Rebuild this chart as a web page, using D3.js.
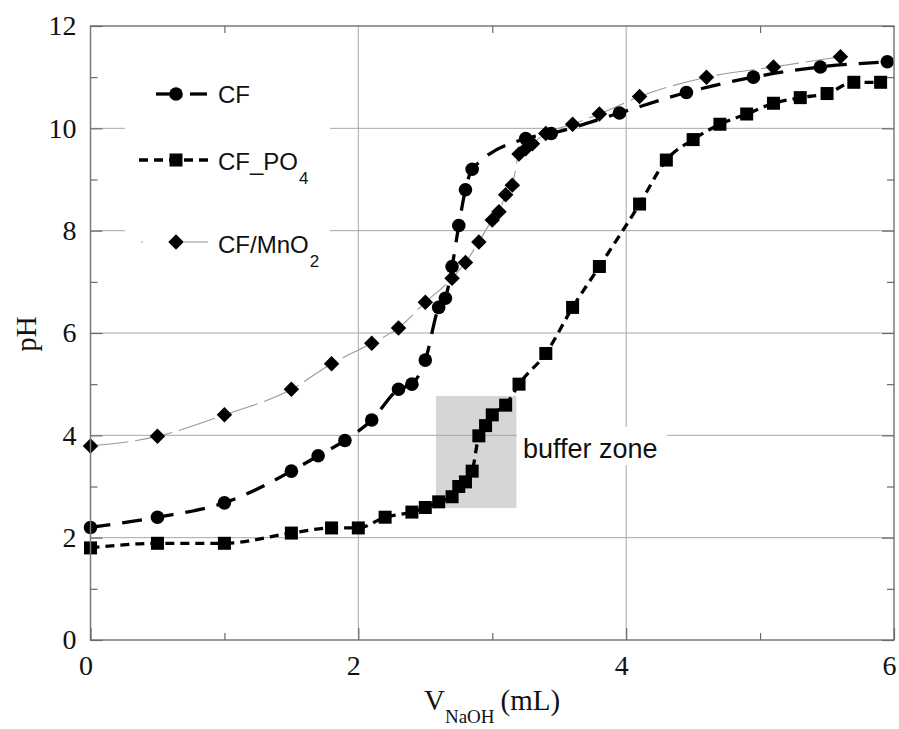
<!DOCTYPE html>
<html>
<head>
<meta charset="utf-8">
<script src="https://cdn.jsdelivr.net/npm/d3@7"></script>
<style>
  html, body { margin: 0; padding: 0; background: #fff; }
  svg { display: block; }
</style>
</head>
<body>
<svg id="chart" width="899" height="729"></svg>
<script>
// ---------- data ----------
const xCF   = [0, 0.5, 1.0, 1.5, 1.7, 1.9, 2.1, 2.3, 2.4, 2.5, 2.6, 2.65, 2.7, 2.75, 2.8, 2.85, 3.25, 3.44, 3.95, 4.45, 4.95, 5.45, 5.95];
const yCF   = [2.2, 2.4, 2.68, 3.3, 3.6, 3.9, 4.3, 4.9, 5.0, 5.47, 6.5, 6.68, 7.3, 8.1, 8.8, 9.2, 9.8, 9.9, 10.3, 10.7, 11.0, 11.2, 11.3];

const xPO4  = [0, 0.5, 1.0, 1.5, 1.8, 2.0, 2.2, 2.4, 2.5, 2.6, 2.7, 2.75, 2.8, 2.85, 2.9, 2.95, 3.0, 3.1, 3.2, 3.4, 3.6, 3.8, 4.1, 4.3, 4.5, 4.7, 4.9, 5.1, 5.3, 5.5, 5.7, 5.9];
const yPO4  = [1.8, 1.89, 1.89, 2.09, 2.19, 2.19, 2.4, 2.5, 2.59, 2.7, 2.8, 3.0, 3.09, 3.3, 3.99, 4.19, 4.4, 4.59, 5.0, 5.6, 6.5, 7.3, 8.52, 9.38, 9.78, 10.08, 10.28, 10.49, 10.6, 10.68, 10.9, 10.9];

const xMnO2 = [0, 0.5, 1.0, 1.5, 1.8, 2.1, 2.3, 2.5, 2.7, 2.8, 2.9, 3.0, 3.05, 3.1, 3.15, 3.2, 3.25, 3.3, 3.4, 3.6, 3.8, 4.1, 4.6, 5.1, 5.6];
const yMnO2 = [3.79, 3.98, 4.4, 4.9, 5.4, 5.8, 6.1, 6.6, 7.07, 7.38, 7.78, 8.21, 8.37, 8.7, 8.89, 9.5, 9.6, 9.7, 9.9, 10.08, 10.28, 10.62, 11.0, 11.2, 11.4];

const xTicks = [0, 2, 4, 6];
const xMinor = [1, 3, 5];
const yTicks = [0, 2, 4, 6, 8, 10, 12];
const yMinor = [1, 3, 5, 7, 9, 11];
const bufferX = [2.58, 3.18];
const bufferY = [2.58, 4.77];

// ---------- layout ----------
const svg = d3.select("#chart");
const L = 90.5, R = 894, T = 26, B = 640;
const x = d3.scaleLinear().domain([0, 6]).range([L, R]);
const y = d3.scaleLinear().domain([0, 12]).range([B, T]);
const serif = "'Liberation Serif','Times New Roman',serif";
const sans  = "'Liberation Sans',Arial,sans-serif";

// buffer zone rect
svg.append("rect")
  .attr("x", x(bufferX[0])).attr("y", y(bufferY[1]))
  .attr("width", x(bufferX[1]) - x(bufferX[0]))
  .attr("height", y(bufferY[0]) - y(bufferY[1]))
  .attr("fill", "#d6d6d6");

// grid
const grid = svg.append("g").attr("stroke", "#a8a8a8").attr("stroke-width", 1);
grid.selectAll("line.h").data(yTicks.filter(v => v > 0 && v < 12)).join("line")
  .attr("x1", L).attr("x2", R).attr("y1", d => y(d)).attr("y2", d => y(d));
grid.selectAll("line.v").data(xTicks.filter(v => v > 0 && v < 6)).join("line")
  .attr("y1", T).attr("y2", B).attr("x1", d => x(d)).attr("x2", d => x(d));

// white boxes (legend, label)
svg.append("rect").attr("x", 125).attr("y", 40).attr("width", 205).attr("height", 245).attr("fill", "#fff");
svg.append("rect").attr("x", 517).attr("y", 427).attr("width", 150).attr("height", 38).attr("fill", "#fff");

// buffer zone text
svg.append("text").attr("x", 523).attr("y", 458)
  .attr("font-family", sans).attr("font-size", 27).attr("fill", "#111")
  .text("buffer zone");

// ---------- lines ----------
function series(xs, ys) { return xs.map((v, i) => [v, ys[i]]); }
const line = d3.line().x(d => x(d[0])).y(d => y(d[1])).curve(d3.curveMonotoneX);

const dMn = series(xMnO2, yMnO2), dCF = series(xCF, yCF), dPO = series(xPO4, yPO4);

svg.append("path").attr("d", line(dMn)).attr("fill", "none")
  .attr("stroke", "#999").attr("stroke-width", 1.1).attr("stroke-dasharray", "38,7");
svg.append("path").attr("d", line(dCF)).attr("fill", "none")
  .attr("stroke", "#000").attr("stroke-width", 3.3).attr("stroke-dasharray", "20,12");
svg.append("path").attr("d", line(dPO)).attr("fill", "none")
  .attr("stroke", "#000").attr("stroke-width", 3.3).attr("stroke-dasharray", "9,6");

// ---------- markers ----------
const diamond = d3.symbol().type(d3.symbolSquare).size(120);
svg.append("g").selectAll("path").data(dMn).join("path")
  .attr("d", diamond)
  .attr("transform", d => `translate(${x(d[0])},${y(d[1])}) rotate(45)`)
  .attr("fill", "#000");
svg.append("g").selectAll("circle").data(dCF).join("circle")
  .attr("cx", d => x(d[0])).attr("cy", d => y(d[1])).attr("r", 6.8).attr("fill", "#000");
svg.append("g").selectAll("rect").data(dPO).join("rect")
  .attr("x", d => x(d[0]) - 6.5).attr("y", d => y(d[1]) - 6.5)
  .attr("width", 13).attr("height", 13).attr("fill", "#000");

// ---------- frame & axes ----------
svg.append("rect").attr("x", L).attr("y", T).attr("width", R - L).attr("height", B - T)
  .attr("fill", "none").attr("stroke", "#7a7a7a").attr("stroke-width", 1.5);

function styleAxis(g) {
  g.select(".domain").remove();
  g.selectAll(".tick line").attr("stroke", "#6a6a6a").attr("stroke-width", 1.2);
  g.selectAll(".tick text").attr("font-family", serif).attr("font-size", 28).attr("fill", "#111");
}
svg.append("g").attr("transform", `translate(${L},0)`)
  .call(d3.axisLeft(y).tickValues(yTicks).tickSize(-12).tickPadding(14).tickFormat(d3.format("d")))
  .call(styleAxis);
svg.append("g").attr("transform", `translate(${L},0)`)
  .call(d3.axisLeft(y).tickValues(yMinor).tickSize(-7).tickFormat(""))
  .call(styleAxis);
svg.append("g").attr("transform", `translate(${R},0)`)
  .call(d3.axisRight(y).tickValues(yTicks).tickSize(-12).tickFormat(""))
  .call(styleAxis);
svg.append("g").attr("transform", `translate(${R},0)`)
  .call(d3.axisRight(y).tickValues(yMinor).tickSize(-7).tickFormat(""))
  .call(styleAxis);
const xb = svg.append("g").attr("transform", `translate(0,${B})`)
  .call(d3.axisBottom(x).tickValues(xTicks).tickSize(-12).tickPadding(15).tickFormat(d3.format("d")))
  .call(styleAxis);
xb.selectAll(".tick text").attr("x", -5);
svg.append("g").attr("transform", `translate(0,${B})`)
  .call(d3.axisBottom(x).tickValues(xMinor).tickSize(-7).tickFormat(""))
  .call(styleAxis);
svg.append("g").attr("transform", `translate(0,${T})`)
  .call(d3.axisTop(x).tickValues(xMinor).tickSize(-7).tickFormat(""))
  .call(styleAxis);

// axis titles
svg.append("text").attr("transform", "translate(36,334) rotate(-90)")
  .attr("text-anchor", "middle").attr("font-family", serif).attr("font-size", 29).attr("fill", "#111")
  .text("pH");
const xt = svg.append("text").attr("x", 424).attr("y", 710)
  .attr("font-family", serif).attr("font-size", 29).attr("fill", "#111");
xt.append("tspan").text("V");
xt.append("tspan").attr("font-size", 19).attr("dy", 13).text("NaOH");
xt.append("tspan").attr("dy", -13).attr("dx", 6).text("(mL)");

// ---------- legend ----------
const lg = svg.append("g");
// CF
lg.append("line").attr("x1", 156).attr("x2", 181).attr("y1", 94).attr("y2", 94).attr("stroke", "#000").attr("stroke-width", 3.3);
lg.append("line").attr("x1", 190).attr("x2", 207).attr("y1", 94).attr("y2", 94).attr("stroke", "#000").attr("stroke-width", 3.3);
lg.append("circle").attr("cx", 176).attr("cy", 94).attr("r", 6.8).attr("fill", "#000");
// PO4
lg.append("line").attr("x1", 139).attr("x2", 212).attr("y1", 160).attr("y2", 160).attr("stroke", "#000").attr("stroke-width", 3.3).attr("stroke-dasharray", "9,6");
lg.append("rect").attr("x", 169.5).attr("y", 153.5).attr("width", 13).attr("height", 13).attr("fill", "#000");
// MnO2
lg.append("line").attr("x1", 141).attr("x2", 143).attr("y1", 242).attr("y2", 242).attr("stroke", "#999").attr("stroke-width", 1.1);
lg.append("line").attr("x1", 184).attr("x2", 208).attr("y1", 242).attr("y2", 242).attr("stroke", "#999").attr("stroke-width", 1.1);
lg.append("path").attr("d", diamond()).attr("transform", "translate(176,242) rotate(45)").attr("fill", "#000");

function legText(yb, main, sub) {
  const t = lg.append("text").attr("x", 218).attr("y", yb)
    .attr("font-family", sans).attr("font-size", 24).attr("fill", "#111");
  t.append("tspan").text(main);
  if (sub) t.append("tspan").attr("font-size", 17).attr("dy", 14).attr("dx", 1).text(sub);
}
legText(103, "CF");
legText(170, "CF_PO", "4");
legText(253, "CF/MnO", "2");
</script>
</body>
</html>
